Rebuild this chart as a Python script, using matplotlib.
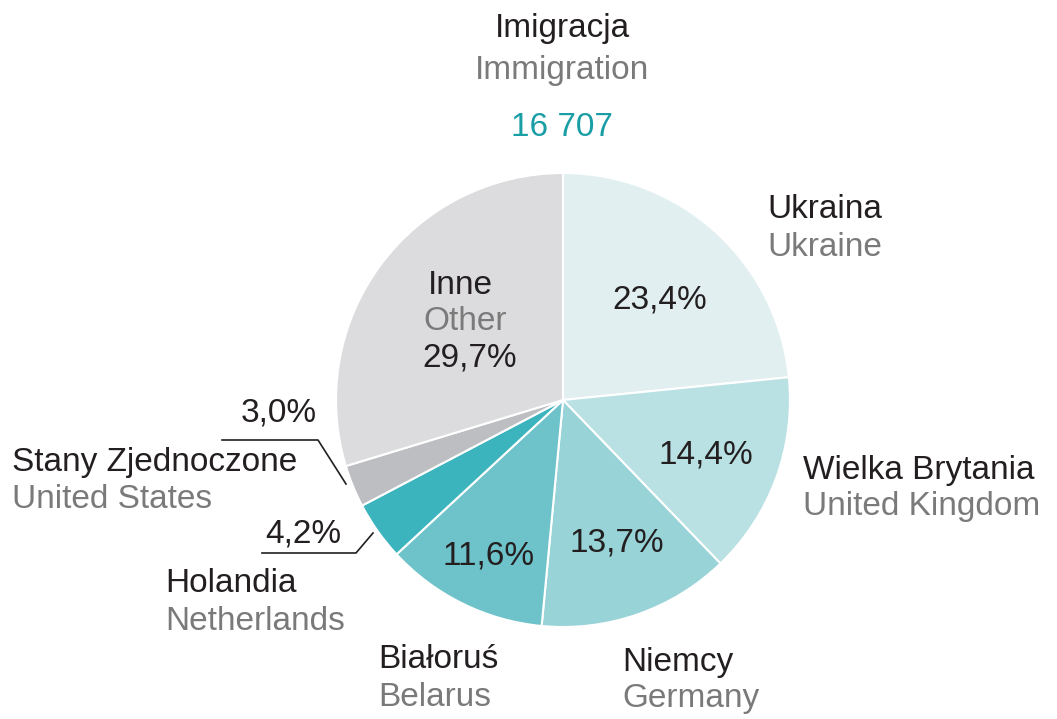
import matplotlib
matplotlib.use("Agg")
from matplotlib import pyplot as plt

plt.rcParams['font.family'] = ['Liberation Sans', 'DejaVu Sans']

# data (clockwise from 12 o'clock)
names_pl = ['Ukraina', 'Wielka Brytania', 'Niemcy', 'Białoruś', 'Holandia', 'Stany Zjednoczone', 'Inne']
names_en = ['Ukraine', 'United Kingdom', 'Germany', 'Belarus', 'Netherlands', 'United States', 'Other']
shares = [23.4, 14.4, 13.7, 11.6, 4.2, 3.0, 29.7]
colors = ['#e1eff1', '#b9e1e3', '#98d3d7', '#6dc3c9', '#3bb4bd', '#bdbec1', '#dcdcde']
total = '16 707'

W, H = 1057, 719
fig = plt.figure(figsize=(W / 100, H / 100), dpi=100)
ax = fig.add_axes([0, 0, 1, 1])


def Y(y):
    # pixel row (from top) -> data y
    return H - y


DARK = '#231f20'
GREY = '#7a7a7a'
TEAL = '#1a9ea6'
FS = 24

ax.pie(shares, colors=colors, startangle=90, counterclock=False,
       center=(563, Y(400)), radius=227, frame=True,
       wedgeprops=dict(edgecolor='white', linewidth=1.5))
ax.set_xlim(0, W)
ax.set_ylim(0, H)
ax.set_aspect('equal')
ax.axis('off')

# title
ax.text(562, Y(28), 'Imigracja', ha='center', va='center', fontsize=FS, color=DARK)
ax.text(562, Y(70), 'Immigration', ha='center', va='center', fontsize=FS, color=GREY)
ax.text(562, Y(128), total, ha='center', va='center', fontsize=FS, color=TEAL)

# outside labels (left edge x, row y of pl line)
label_pos = {
    0: (767, 210),
    1: (803, 470),
    2: (622, 662),
    3: (378, 660),
    4: (165, 584),
    5: (12, 463),
}
for i, (x, y) in label_pos.items():
    ax.text(x, Y(y), names_pl[i], ha='left', va='center', fontsize=FS, color=DARK)
    ax.text(x, Y(y + 37), names_en[i], ha='left', va='center', fontsize=FS, color=GREY)


def pct(v):
    return f'{v:.1f}%'.replace('.', ',')


# percentages inside slices
pct_pos = {0: (660, 300), 1: (706, 455), 2: (617, 543), 3: (489, 556)}
for i, (x, y) in pct_pos.items():
    ax.text(x, Y(y), pct(shares[i]), ha='center', va='center', fontsize=FS, color=DARK)

# Inne block
ax.text(460, Y(286), names_pl[6], ha='center', va='center', fontsize=FS, color=DARK)
ax.text(465, Y(322), names_en[6], ha='center', va='center', fontsize=FS, color=GREY)
ax.text(470, Y(358), pct(shares[6]), ha='center', va='center', fontsize=FS, color=DARK)

# small slices with leader lines
ax.text(341, Y(534), pct(shares[4]), ha='right', va='center', fontsize=FS, color=DARK)
ax.plot([262, 356, 373], [Y(553), Y(553), Y(533)], color=DARK, lw=1.2)
ax.text(317, Y(413), pct(shares[5]), ha='right', va='center', fontsize=FS, color=DARK)
ax.plot([222, 318, 346], [Y(440), Y(440), Y(484)], color=DARK, lw=1.2)

fig.savefig('out.png', dpi=100)
